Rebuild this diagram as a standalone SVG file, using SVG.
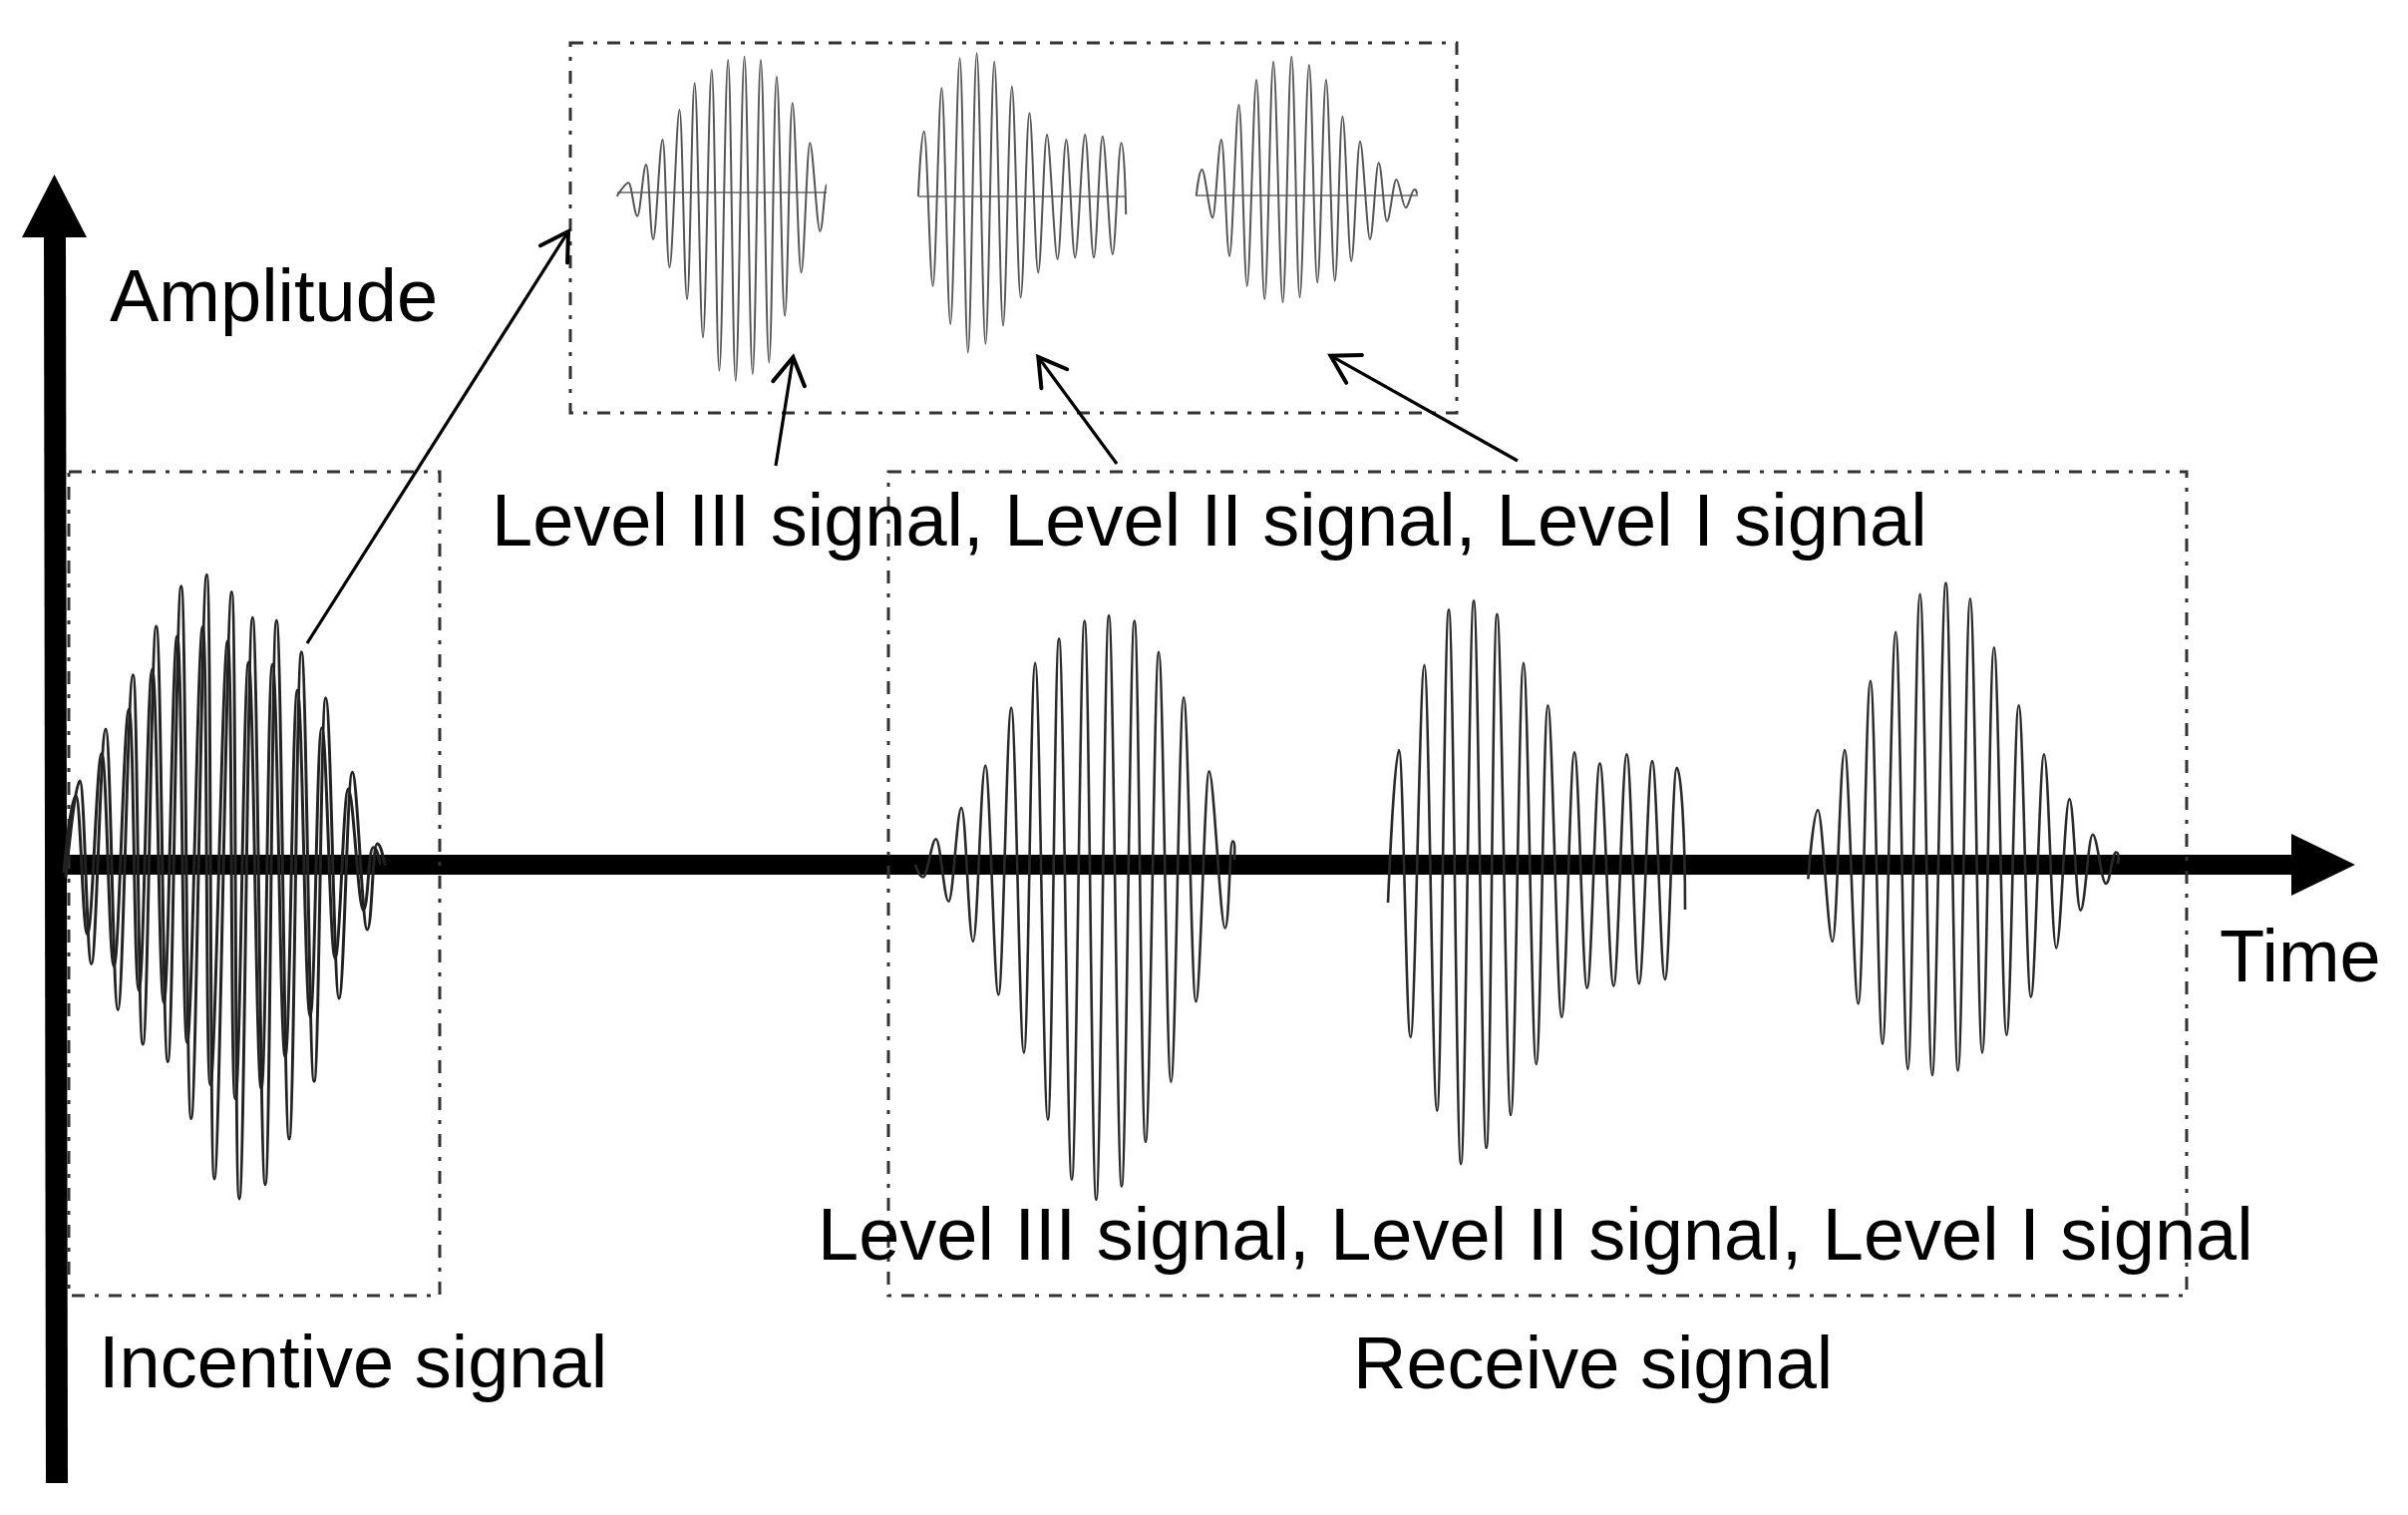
<svg xmlns="http://www.w3.org/2000/svg" width="2415" height="1519" viewBox="0 0 2415 1519">
<style>
.t{font-family:"Liberation Sans",Arial,sans-serif;font-size:74px;fill:#000}
.box{fill:none;stroke:#333;stroke-width:3;stroke-dasharray:13 10 4 10}
.wr{fill:none;stroke:#2a2a2a;stroke-width:2.6;stroke-linejoin:round}
.wi{fill:none;stroke:#222;stroke-width:3;stroke-linejoin:round}
.wt{fill:none;stroke:#555;stroke-width:2;stroke-linejoin:round}
.bl{stroke:#666;stroke-width:1.5}
.con{fill:none;stroke:#000;stroke-width:3.2;marker-end:url(#open)}
</style>
<defs>
<marker id="open" markerUnits="userSpaceOnUse" markerWidth="40" markerHeight="40" viewBox="-35 -20 40 40" refX="0" refY="0" orient="auto" overflow="visible">
<path d="M-27,-16 L0,0 L-27,16" fill="none" stroke="#000" stroke-width="4" stroke-linecap="round" stroke-linejoin="miter"/>
</marker>
</defs>
<rect width="2415" height="1519" fill="#fff"/>

<g id="axes">
<polygon points="44,236 66,236 68,1487 46,1487" fill="#000"/>
<polygon points="22,238 54.5,175 87,238" fill="#000"/>
<rect x="55" y="857" width="2245" height="20" fill="#000"/>
<polygon points="2298,836 2362,867 2298,898" fill="#000"/>
<text class="t" x="110" y="322">Amplitude</text>
<text class="t" x="2226" y="984">Time</text>
</g>

<g id="incentive">
<rect class="box" x="69" y="473" width="372" height="826"/>
<path class="wi" d="M66,880 S75,783 80,783 S87,966.6 91.7,966.6 S101,731 106,731 S113.3,1012.6 118.3,1012.6 S128.3,676.8 133.3,676.8 S138.3,1047 143.3,1047 S151.7,628 156.7,628 S163.3,1064.5 168.3,1064.5 S176.7,587.8 181.7,587.8 S186.7,1121.6 191.7,1121.6 S202.3,576.3 207.3,576.3 S210,1182 215,1182 S227.3,593.5 232.3,593.5 S235,1202 240,1202 S248.3,619.3 253.3,619.3 S261,1187.7 266,1187.7 S272.3,622.2 277.3,622.2 S285,1142 290,1142 S297.3,653.8 302.3,653.8 S310,1084.3 315,1084.3 S321.7,699.7 326.7,699.7 S335,1001 340,1001 S348.3,774.3 353.3,774.3 S363.3,932 368.3,932 S373.3,846 378.3,846 S385,870 387,866"/>
<path class="wi" d="M64,875 S71,798 76,798 S82.7,936.7 87.7,936.7 S97,755.5 102,755.5 S109.3,968.9 114.3,968.9 S124.3,711 129.3,711 S134.3,993 139.3,993 S147.7,671 152.7,671 S159.3,1005.3 164.3,1005.3 S172.7,638 177.7,638 S182.7,1045.2 187.7,1045.2 S198.3,628.6 203.3,628.6 S206,1087.5 211,1087.5 S223.3,642.7 228.3,642.7 S231,1101.5 236,1101.5 S244.3,663.9 249.3,663.9 S257,1091.5 262,1091.5 S268.3,666.3 273.3,666.3 S281,1059.5 286,1059.5 S293.3,692.2 298.3,692.2 S306,1019.1 311,1019.1 S317.7,729.8 322.7,729.8 S331,960.8 336,960.8 S344.3,791 349.3,791 S359.3,912.5 364.3,912.5 S369.3,849.8 374.3,849.8 S380,866 382,866"/>
<text class="t" x="99" y="1391">Incentive signal</text>
</g>

<g id="receive">
<rect class="box" x="891" y="473" width="1302" height="826"/>
<path class="wr" d="M918,867 S921.4,879.2 925.9,879.2 S934.2,841.3 938.7,841.3 S946.9,903.8 951.4,903.8 S959.7,810 964.2,810 S971.4,943.9 975.9,943.9 S983.7,767.6 988.2,767.6 S996.9,997.5 1001.4,997.5 S1009.7,709.6 1014.2,709.6 S1022.4,1055.5 1026.9,1055.5 S1033.7,664.9 1038.2,664.9 S1046.4,1122.5 1050.9,1122.5 S1057.6,640.4 1062.1,640.4 S1070.4,1182.8 1074.9,1182.8 S1083.2,622.5 1087.7,622.5 S1094.9,1202.9 1099.4,1202.9 S1107.6,617.1 1112.1,617.1 S1120.4,1189.5 1124.9,1189.5 S1133.2,622.5 1137.7,622.5 S1144.4,1144.8 1148.9,1144.8 S1157.6,653.8 1162.1,653.8 S1169.9,1084.6 1174.4,1084.6 S1182.6,699.3 1187.1,699.3 S1194.9,1004.2 1199.4,1004.2 S1208.2,773.4 1212.7,773.4 S1224,930.5 1228.5,930.5 S1233,843.5 1236.1,843.5 S1238,855 1238,862"/>
<path class="wr" d="M1392,905 S1398.5,752 1403,752 S1410.2,1040 1414.7,1040 S1424,667 1428.5,667 S1436.7,1113.6 1441.2,1113.6 S1448.5,611.3 1453,611.3 S1460.7,1167.1 1465.2,1167.1 S1473.5,602.4 1478,602.4 S1486.2,1151 1490.7,1151 S1496.9,615.8 1501.4,615.8 S1510.7,1118 1515.2,1118 S1523.4,664.9 1527.9,664.9 S1536.2,1067 1540.7,1067 S1547.9,707.3 1552.4,707.3 S1561.7,1019.8 1566.2,1019.8 S1574.5,754.2 1579,754.2 S1587.2,990.8 1591.7,990.8 S1600,765.4 1604.5,765.4 S1613.8,988.6 1618.3,988.6 S1627,756.4 1631.5,756.4 S1639.3,986.3 1643.8,986.3 S1652.5,763.1 1657,763.1 S1665.3,981.9 1669.8,981.9 S1677.2,769.8 1681.7,769.8 S1690,840 1690,912"/>
<path class="wr" d="M1813.4,881.4 S1818.7,812.2 1823.2,812.2 S1833.3,943.9 1837.8,943.9 S1845.5,752 1850,752 S1859.2,1006.4 1863.7,1006.4 S1871.4,682.8 1875.9,682.8 S1883.5,1046.6 1888,1046.6 S1896.7,633.7 1901.2,633.7 S1908.9,1071.9 1913.4,1071.9 S1921.1,595.7 1925.6,595.7 S1933.3,1077.9 1937.8,1077.9 S1947,584.6 1951.5,584.6 S1959.2,1073.4 1963.7,1073.4 S1971.4,600.2 1975.9,600.2 S1983.5,1055.5 1988,1055.5 S1995.3,649.3 1999.8,649.3 S2007.9,1037.7 2012.4,1037.7 S2020.1,707.3 2024.6,707.3 S2032.3,999.7 2036.8,999.7 S2045.5,756.4 2050,756.4 S2057.7,950.6 2062.2,950.6 S2070.9,801.1 2075.4,801.1 S2082.1,912.7 2086.6,912.7 S2094.3,836.8 2098.8,836.8 S2107.5,885.9 2112,885.9 S2118,854.6 2122.2,854.6 S2124,866 2124,866"/>
<text class="t" x="820" y="1263">Level III signal, Level II signal, Level I signal</text>
<text class="t" x="1357" y="1392">Receive signal</text>
</g>

<g id="zoomed">
<rect class="box" x="572" y="43" width="889" height="371"/>
<line class="bl" x1="619" y1="193" x2="829" y2="193"/>
<line class="bl" x1="921" y1="197" x2="1129" y2="197" stroke="#333" stroke-width="2.5"/>
<line class="bl" x1="1200" y1="196" x2="1422" y2="196"/>
<path class="wt" d="M618.7,196.7 S627.4,183.3 630.4,183.3 S636.2,216.7 639.2,216.7 S645,165 648,165 S652.1,240 655.1,240 S661.5,140 664.5,140 S668.5,268.3 671.5,268.3 S678.5,110 681.5,110 S686.1,300 689.1,300 S693.7,83.3 696.7,83.3 S702,338.3 705,338.3 S710.8,70 713.8,70 S718.4,371.7 721.4,371.7 S727.2,60 730.2,60 S734.8,381.7 737.8,381.7 S743.6,56.7 746.6,56.7 S751.8,375 754.8,375 S760,60 763,60 S768.3,363.3 771.3,363.3 S775.9,76.7 778.9,76.7 S784.1,316.7 787.1,316.7 S791.7,103.3 794.7,103.3 S800.5,273.3 803.5,273.3 S809.3,143.3 812.3,143.3 S819.3,231.7 822.3,231.7 S826.8,185 828.8,185"/>
<path class="wt" d="M920.9,196.7 S923.8,131.7 926.8,131.7 S932.6,286.7 935.6,286.7 S941.4,88.3 944.4,88.3 S950.2,325 953.2,325 S959.6,58.3 962.6,58.3 S967.8,353.3 970.8,353.3 S976.6,53.3 979.6,53.3 S985.4,345 988.4,345 S994.2,61.7 997.2,61.7 S1003,326.7 1006,326.7 S1011.8,86.7 1014.8,86.7 S1020.6,298.3 1023.6,298.3 S1029.4,113.3 1032.4,113.3 S1038.2,273.3 1041.2,273.3 S1047,135 1050,135 S1057.6,260 1060.6,260 S1066.4,140 1069.4,140 S1075.2,258.3 1078.2,258.3 S1085.2,135 1088.2,135 S1094,258.3 1097,258.3 S1102.8,136.7 1105.8,136.7 S1112.8,255 1115.8,255 S1121.5,143.3 1124.5,143.3 S1129,200 1129.2,215"/>
<path class="wt" d="M1199.7,196.7 S1202.5,170 1205.5,170 S1213.1,218.3 1216.1,218.3 S1221.9,140 1224.9,140 S1230.1,256.7 1233.1,256.7 S1239.5,105 1242.5,105 S1247.7,286.7 1250.7,286.7 S1257.1,80 1260.1,80 S1265.3,300 1268.3,300 S1274.1,61.7 1277.1,61.7 S1283.5,303.3 1286.5,303.3 S1292.3,56.7 1295.3,56.7 S1300.5,298.3 1303.5,298.3 S1309.9,65 1312.9,65 S1318.2,283.3 1321.2,283.3 S1326.9,80 1329.9,80 S1335.7,281.7 1338.7,281.7 S1343.4,116.7 1346.4,116.7 S1352.2,261.7 1355.2,261.7 S1361,141.7 1364,141.7 S1371,240 1374,240 S1379.7,163.3 1382.7,163.3 S1388,221.7 1391,221.7 S1397.4,180 1400.4,180 S1406.8,208.3 1409.8,208.3 S1415.6,190 1418.6,190 S1420.5,195 1421.5,195"/>
<text class="t" x="493" y="547">Level III signal, Level II signal, Level I signal</text>
</g>

<g id="connectors">
<line class="con" x1="308" y1="645" x2="570" y2="232"/>
<line class="con" x1="778" y1="467" x2="795.4" y2="358"/>
<line class="con" x1="1120" y1="465" x2="1041.3" y2="358"/>
<line class="con" x1="1522" y1="462" x2="1334.5" y2="356.7"/>
</g>
</svg>
